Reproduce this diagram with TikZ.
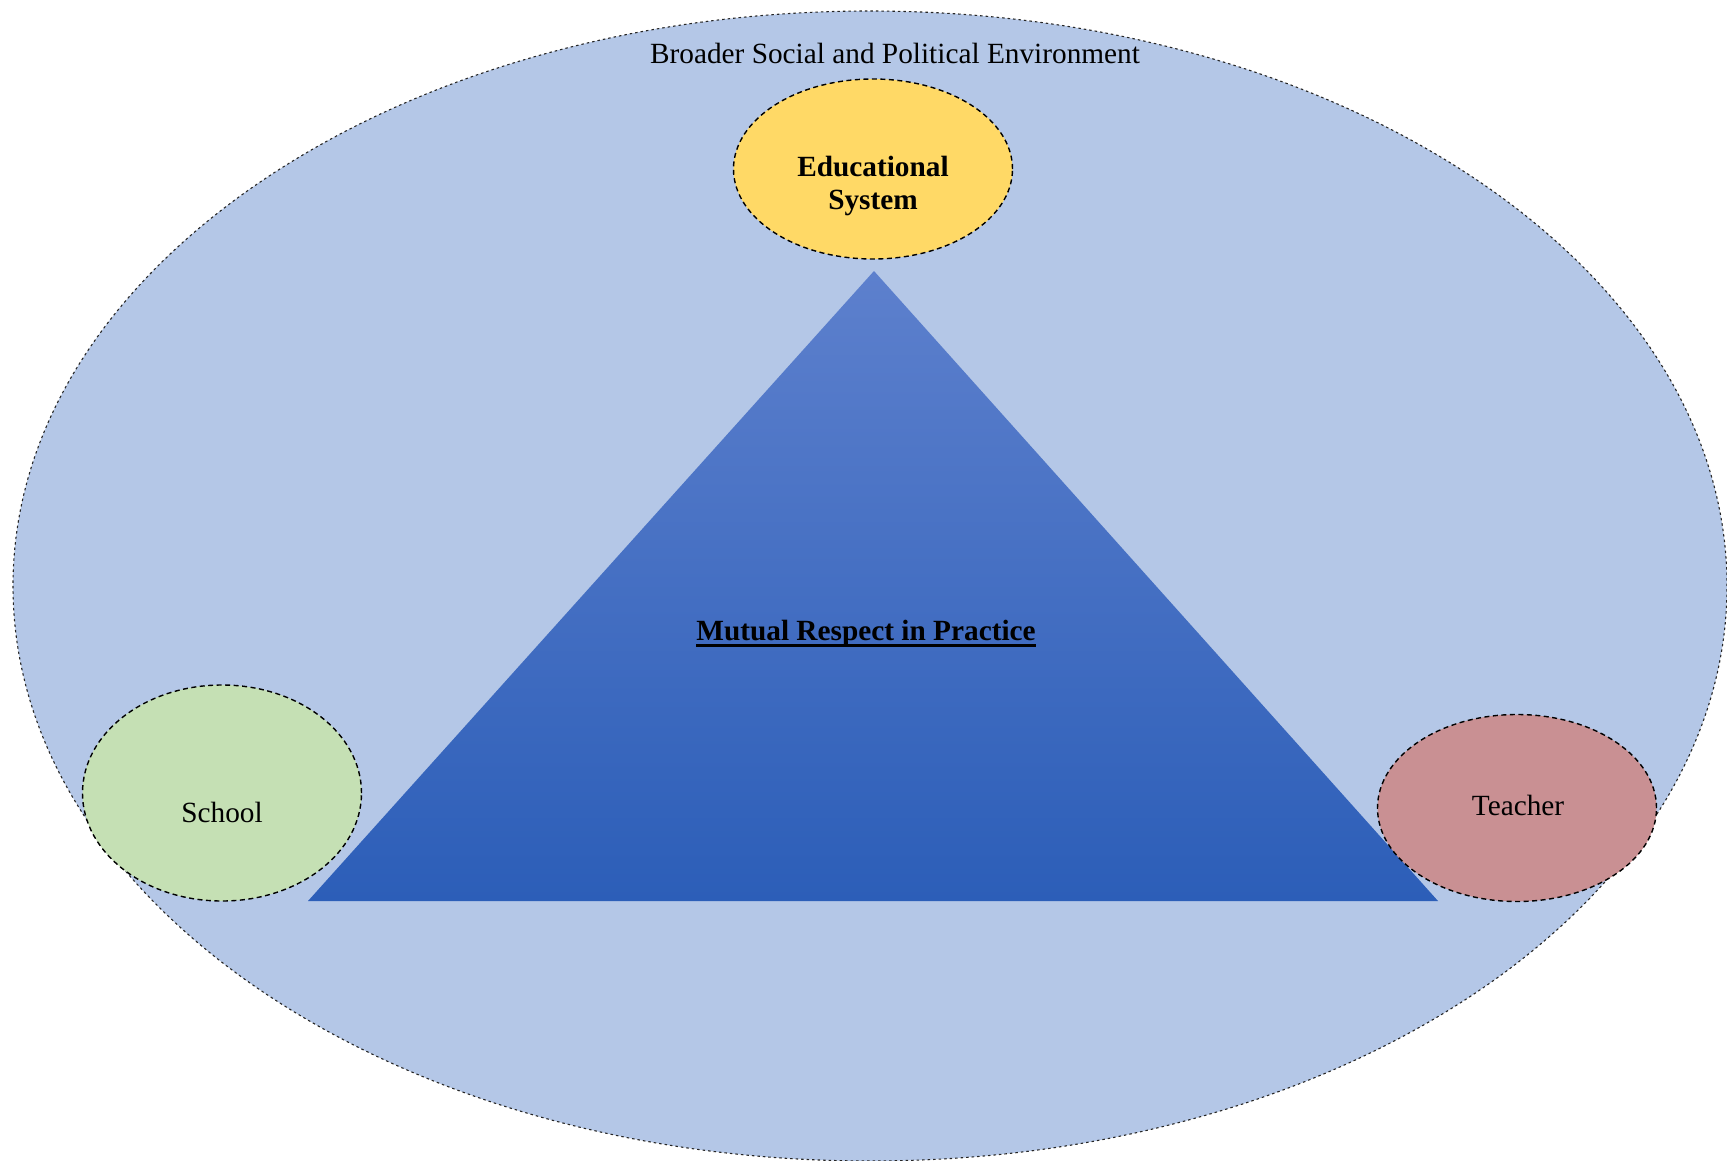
\documentclass[tikz,border=0pt]{standalone}
\usepackage{fontspec}
\setmainfont{Liberation Serif}
\usetikzlibrary{shapes.geometric,positioning}
\definecolor{envblue}{RGB}{180,199,231}
\definecolor{eduyellow}{RGB}{255,217,102}
\definecolor{schoolgreen}{RGB}{197,224,180}
\definecolor{teacherred}{RGB}{201,144,147}
\definecolor{tritop}{RGB}{93,128,205}
\definecolor{tribottom}{RGB}{44,94,184}
\tikzstyle{respect model}=[
    x=1pt, y=-1pt,
    every node/.style={
        align=center,
        font=\fontsize{29.3}{33}\selectfont,
}]
\tikzstyle{actor}=[
    ellipse, draw,
    line width=1.4pt, dash pattern=on 5pt off 3.5pt,
    inner sep=0pt,
]

\begin{document}
\begin{tikzpicture}[respect model]
        \clip (0,0) rectangle (1727,1160);
        \useasboundingbox (0,0) rectangle (1727,1160);

        % the surrounding environment
        \node[ellipse, fill=envblue, draw=black!85, line width=1.1pt, dash pattern=on 2.5pt off 3pt,
              minimum width=1714pt, minimum height=1150pt] (env) at (870,586) {};
        \node[anchor=base] (envlabel) at (895,63) {Broader Social and Political Environment};

        % triangle with its caption
        \shade[top color=tritop, bottom color=tribottom]
            (874,271) coordinate (apex) -- (1438,901) coordinate (baseR) -- (308,901) coordinate (baseL) -- cycle;
        \node[anchor=base, inner sep=0pt, font=\bfseries\fontsize{29.3}{33}\selectfont] (mutual) at (866,640) {Mutual Respect in Practice};
        \draw[line width=3pt] ([yshift=-5pt]mutual.base west) -- ([yshift=-5pt]mutual.base east);

        % the three actors
        \node[actor, fill=eduyellow, minimum width=279pt, minimum height=180pt] (edu) at (873,169) {};
        \node[actor, fill=schoolgreen, minimum width=279pt, minimum height=216pt] (school) at (222,793) {};
        \node[actor, fill=teacherred, minimum width=279pt, minimum height=187pt] (teacher) at (1517,808) {};

        \node[font=\bfseries\fontsize{29.3}{33}\selectfont] (edulabel) at (873,186) {Educational\\System};
        \node[anchor=base] (schoollabel) at (222,822) {School};
        \node[anchor=base] (teacherlabel) at (1518,815) {Teacher};
    \end{tikzpicture}
\end{document}
